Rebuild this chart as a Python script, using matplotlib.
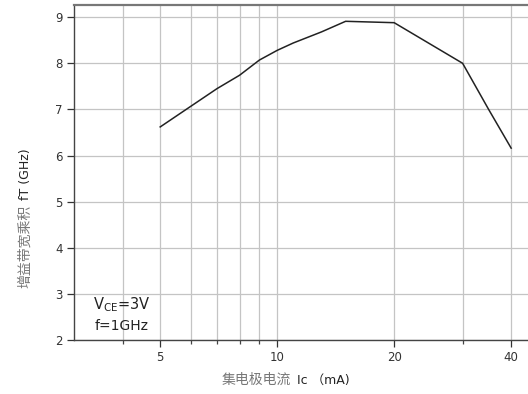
import matplotlib
matplotlib.use("Agg")
import matplotlib.pyplot as plt
from matplotlib.ticker import FixedLocator, NullFormatter

plt.rcParams['font.family'] = ['DejaVu Sans', 'Noto Sans CJK SC']

# данные: ток коллектора (мА) и fT (ГГц)
ic_ma = [5, 6, 7, 8, 9, 10, 11, 13, 15, 20, 30, 35, 40]
ft_ghz = [6.62, 7.07, 7.45, 7.74, 8.07, 8.28, 8.44, 8.68, 8.91, 8.88, 8.0, 7.0, 6.16]

major_x = [5, 10, 20, 40]
minor_x = [4, 6, 7, 8, 9, 30]
y_ticks = [2, 3, 4, 5, 6, 7, 8, 9]

fig = plt.figure(figsize=(5.28, 3.94), dpi=100)
ax = fig.add_axes([74 / 528, 1 - 340 / 394, 1 - 74 / 528, (340 - 4.7) / 394])

ax.plot(ic_ma, ft_ghz, color='#222222', lw=1.1, zorder=3)

ax.set_xscale('log')
ax.set_xlim(3, 44.2)
ax.set_ylim(2, 9.27)

ax.xaxis.set_major_locator(FixedLocator(major_x))
ax.xaxis.set_minor_locator(FixedLocator(minor_x))
ax.xaxis.set_major_formatter(plt.FixedFormatter([str(v) for v in major_x]))
ax.xaxis.set_minor_formatter(NullFormatter())
ax.set_yticks(y_ticks)

# сетка по всем делениям
ax.grid(which='both', color='#c4c4c4', lw=0.9, zorder=0)

for s in ['left', 'bottom', 'top']:
    ax.spines[s].set_color('#444444')
    ax.spines[s].set_linewidth(1.0)
ax.spines['top'].set_linewidth(1.6)
ax.spines['top'].set_color('#777777')
ax.spines['right'].set_visible(False)

ax.tick_params(which='major', direction='out', length=5, width=0.9,
               labelsize=8.5, colors='#333333', pad=3)
ax.tick_params(which='minor', direction='out', length=3, width=0.9, colors='#444444')

# подпись условий
ax.text(0.106, 0.104, 'V$_{\\mathregular{CE}}$=3V', transform=ax.transAxes,
        fontsize=10.5, color='#222222', ha='center', va='center')
ax.text(0.106, 0.042, 'f=1GHz', transform=ax.transAxes,
        fontsize=10, color='#222222', ha='center', va='center')

# подписи осей (китайская часть серым)
fig.text(291 / 528, 1 - 380 / 394, '集电极电流', ha='right', va='center',
         fontsize=10, color='#777777', family=['Noto Sans CJK SC'])
fig.text(297 / 528, 1 - 380 / 394, 'Ic （mA)', ha='left', va='center',
         fontsize=9, color='#222222', family=['DejaVu Sans', 'Noto Sans CJK SC'])
fig.text(25 / 528, 1 - 205 / 394, '增益带宽乘积', ha='center', va='top', rotation=90,
         fontsize=10, color='#777777', family=['Noto Sans CJK SC'])
fig.text(25 / 528, 1 - 200 / 394, 'fT (GHz)', ha='center', va='bottom', rotation=90,
         fontsize=9, color='#222222')

fig.savefig('out.png', dpi=100)
